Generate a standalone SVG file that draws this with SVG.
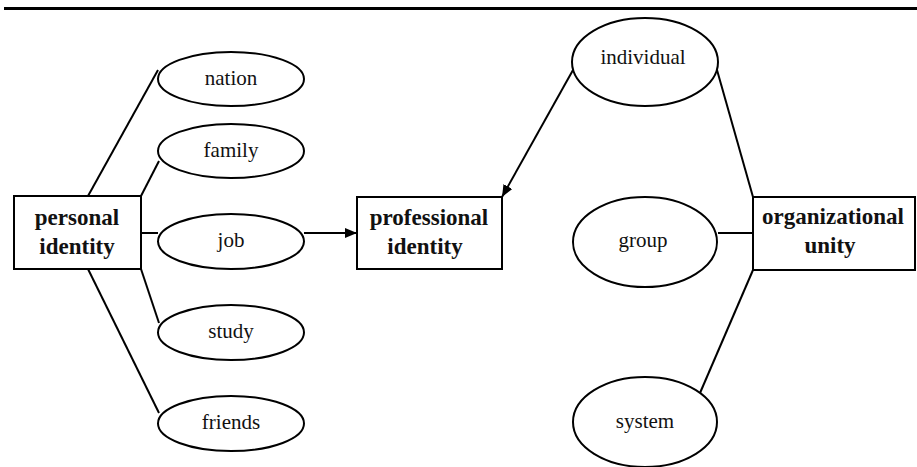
<svg xmlns="http://www.w3.org/2000/svg" width="917" height="467" viewBox="0 0 917 467">
<style>
.n{fill:#fff;stroke:#000;stroke-width:2}
.c line{stroke:#000;stroke-width:2}
.t{font-family:"Liberation Serif","Times New Roman",serif;font-size:21px;fill:#111;text-anchor:middle}
.b{font-family:"Liberation Serif","Times New Roman",serif;font-size:23px;font-weight:bold;fill:#111;text-anchor:middle}
</style>
<defs>
<marker id="ah" viewBox="0 0 12 10" refX="12" refY="5" markerWidth="12" markerHeight="10" markerUnits="userSpaceOnUse" orient="auto">
<path d="M0,0 L12,5 L0,10 Z" fill="#000"/>
</marker>
</defs>
<rect width="917" height="467" fill="#fff"/>
<line x1="4" y1="8.5" x2="917" y2="8.5" stroke="#000" stroke-width="3"/>
<g class="c" id="connectors">
<line x1="88" y1="196" x2="158" y2="70"/>
<line x1="141" y1="196" x2="159" y2="161"/>
<line x1="141" y1="233" x2="158" y2="233"/>
<line x1="141" y1="269" x2="159" y2="323"/>
<line x1="88" y1="269" x2="159" y2="413"/>
<line x1="304" y1="233" x2="357" y2="233" marker-end="url(#ah)"/>
<line x1="573" y1="70" x2="502" y2="197" marker-end="url(#ah)"/>
<line x1="717" y1="70" x2="753" y2="197"/>
<line x1="718" y1="233" x2="753" y2="233"/>
<line x1="753" y1="270" x2="700" y2="393"/>
</g>
<g id="personal-identity"><rect class="n" x="14" y="196" width="127" height="73"/><text class="b" x="77" y="225">personal</text><text class="b" x="77" y="254">identity</text></g>
<g id="nation"><ellipse class="n" cx="231" cy="79" rx="73" ry="27"/><text class="t" x="231" y="85">nation</text></g>
<g id="family"><ellipse class="n" cx="231" cy="151" rx="73" ry="27"/><text class="t" x="231" y="157">family</text></g>
<g id="job"><ellipse class="n" cx="231" cy="241.5" rx="73" ry="27.5"/><text class="t" x="231" y="247">job</text></g>
<g id="study"><ellipse class="n" cx="231" cy="332.5" rx="73" ry="27.5"/><text class="t" x="231" y="338">study</text></g>
<g id="friends"><ellipse class="n" cx="231" cy="423.5" rx="73" ry="27.5"/><text class="t" x="231" y="429">friends</text></g>
<g id="professional-identity"><rect class="n" x="357" y="197" width="145" height="72"/><text class="b" x="429" y="225">professional</text><text class="b" x="425" y="254">identity</text></g>
<g id="individual"><ellipse class="n" cx="645" cy="62" rx="73" ry="44"/><text class="t" x="643" y="64">individual</text></g>
<g id="group"><ellipse class="n" cx="645" cy="242" rx="72" ry="45"/><text class="t" x="643" y="247">group</text></g>
<g id="system"><ellipse class="n" cx="645" cy="422" rx="72" ry="45"/><text class="t" x="645" y="428">system</text></g>
<g id="organizational-unity"><rect class="n" x="753" y="197" width="162" height="73"/><text class="b" x="833" y="224">organizational</text><text class="b" x="830" y="253">unity</text></g>
</svg>
